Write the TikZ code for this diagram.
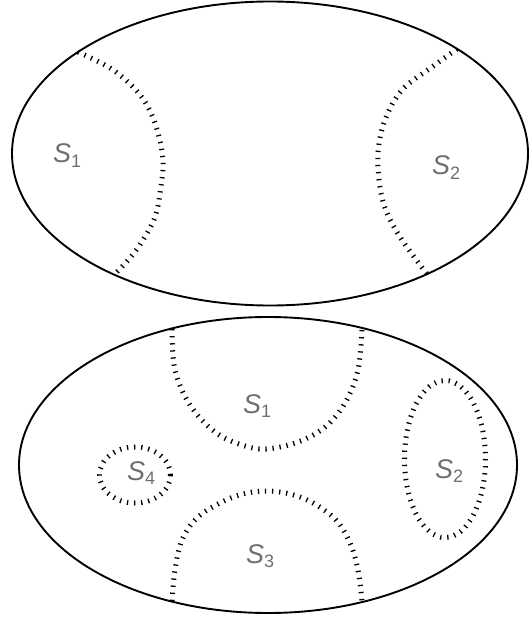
\documentclass[tikz,border=0pt]{standalone}
\usepackage{fontspec}
\setmainfont{Liberation Sans}
\definecolor{labelgray}{HTML}{6E6E6E}
\tikzset{
  outline/.style={draw=black, line width=1.9pt},
  region/.style={draw=black, line width=5pt, dash pattern=on 1.3pt off 5.8pt},
  lbl/.style={anchor=base west, inner sep=0pt, text=labelgray}
}
\newcommand{\setlbl}[1]{{\fontsize{27}{27}\selectfont\itshape S}\raisebox{-4.5pt}{\fontsize{18}{18}\selectfont #1}}
\begin{document}
\begin{tikzpicture}[x=1pt,y=-1pt]
\useasboundingbox (0,0) rectangle (529,620);
% top ellipse
\draw[outline] (270,153.5) ellipse [x radius=258, y radius=152];
\draw[region] plot[smooth, tension=0.6] coordinates {(78,52) (110,68) (133,87) (148,107) (158,133) (163,162) (160,193) (155,217) (143,240) (130,258) (114,275)};
\draw[region] plot[smooth, tension=0.6] coordinates {(457,49) (432,67) (402,90) (385,120) (378,153) (380,187) (387,213) (402,240) (427,274)};
\node[lbl] (t1) at (53,163) {\setlbl{1}};
\node[lbl] (t2) at (432,175) {\setlbl{2}};
% bottom ellipse
\draw[outline] (268,465) ellipse [x radius=249, y radius=148];
\draw[region] plot[smooth, tension=0.6] coordinates {(172,329) (175,370) (190,405) (215,432) (242,445) (266,449) (298,442) (325,427) (345,403) (358,370) (362,328)};
\draw[region] plot[smooth, tension=0.6] coordinates {(172,601) (175,570) (182,540) (197,518) (220,503) (243,494) (266,491) (290,494) (313,503) (336,520) (350,543) (358,570) (362,601)};
\draw[region] (135,475) ellipse [x radius=35.5, y radius=28];
\draw[region] (445,459) ellipse [x radius=40.5, y radius=78.5];
\node[lbl] (b1) at (243,413) {\setlbl{1}};
\node[lbl] (b2) at (435,478) {\setlbl{2}};
\node[lbl] (b3) at (246,563) {\setlbl{3}};
\node[lbl] (b4) at (127,480) {\setlbl{4}};
\end{tikzpicture}
\end{document}
